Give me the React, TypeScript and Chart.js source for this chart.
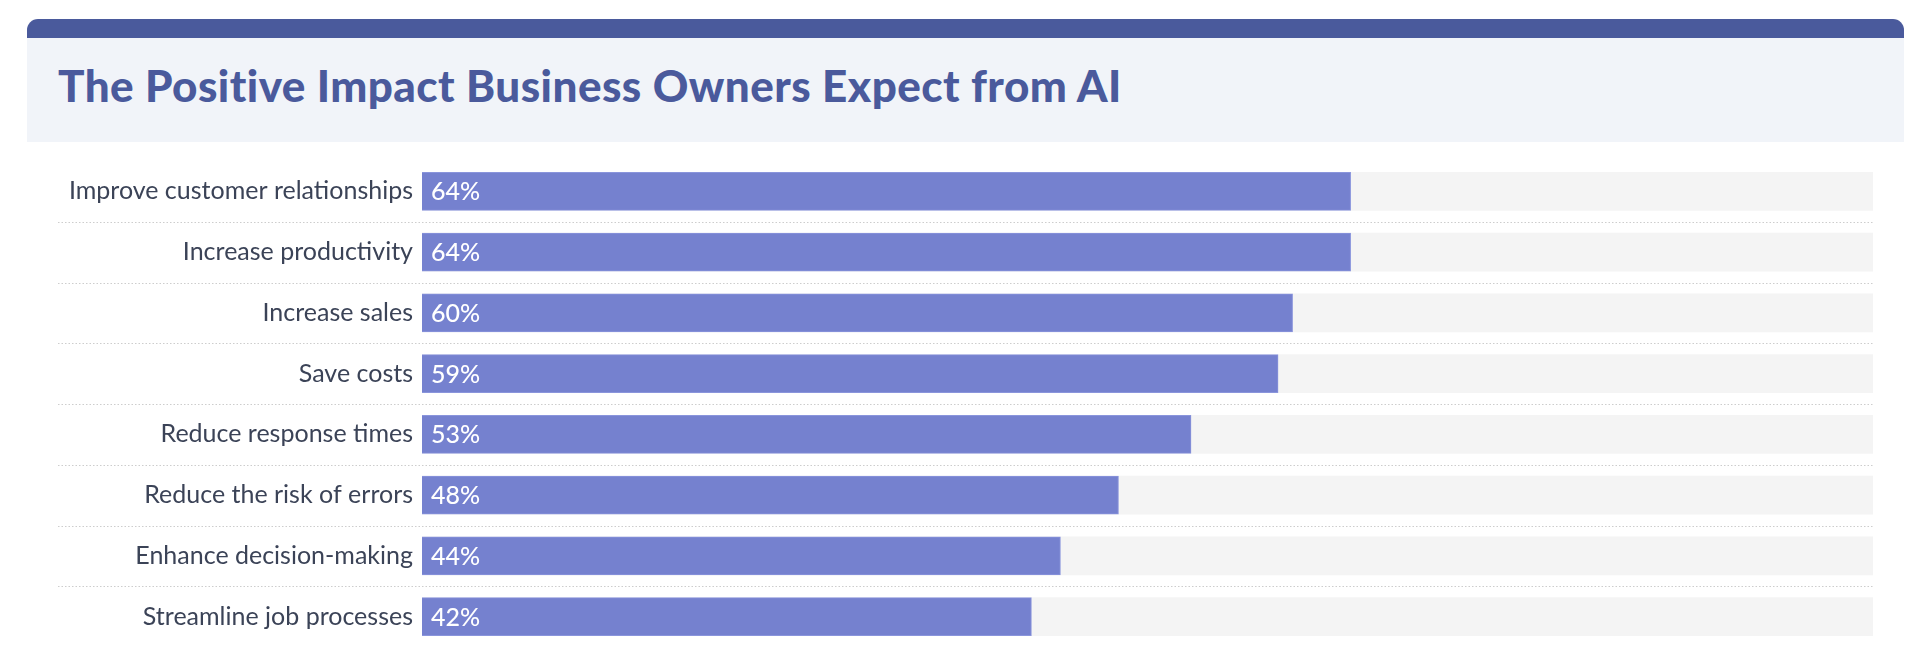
import React, { useEffect, useRef } from "react";
import { Chart, registerables } from "chart.js";

Chart.register(...registerables);

const titleText = "The Positive Impact Business Owners Expect from AI";
const categories = [
  "Improve customer relationships",
  "Increase productivity",
  "Increase sales",
  "Save costs",
  "Reduce response times",
  "Reduce the risk of errors",
  "Enhance decision-making",
  "Streamline job processes",
];
const values = [64, 64, 60, 59, 53, 48, 44, 42];
const trackValues = [100, 100, 100, 100, 100, 100, 100, 100];
const valueLabels = ["64%", "64%", "60%", "59%", "53%", "48%", "44%", "42%"];

const FONT = "Lato, 'Open Sans', sans-serif";

const separatorPlugin = {
  id: "separators",
  beforeDatasetsDraw(chart: any) {
    const { ctx, chartArea } = chart;
    const y = chart.scales.y;
    ctx.save();
    ctx.strokeStyle = "#cdcdcd";
    ctx.lineWidth = 1.2;
    ctx.setLineDash([1.5, 2]);
    for (let i = 0; i < categories.length - 1; i++) {
      const py = Math.round((y.getPixelForValue(i) + y.getPixelForValue(i + 1)) / 2) + 0.5;
      ctx.beginPath();
      ctx.moveTo(58, py);
      ctx.lineTo(chartArea.right, py);
      ctx.stroke();
    }
    ctx.restore();
  },
};

const valueLabelPlugin = {
  id: "valueLabels",
  afterDatasetsDraw(chart: any) {
    const { ctx } = chart;
    const meta = chart.getDatasetMeta(1);
    ctx.save();
    ctx.fillStyle = "#ffffff";
    ctx.font = `500 25px ${FONT}`;
    ctx.textAlign = "left";
    ctx.textBaseline = "middle";
    meta.data.forEach((bar: any, i: number) => {
      ctx.fillText(valueLabels[i], bar.base + 9, bar.y + 1);
    });
    ctx.restore();
  },
};

export default function App() {
  const canvasRef = useRef<HTMLCanvasElement | null>(null);

  useEffect(() => {
    if (!canvasRef.current) return;
    const chart = new Chart(canvasRef.current, {
      type: "bar",
      data: {
        labels: categories,
        datasets: [
          {
            label: "Track",
            data: trackValues,
            backgroundColor: "#f4f4f4",
            borderWidth: 0,
            barThickness: 38,
            grouped: false,
            order: 2,
          },
          {
            label: "Share",
            data: values,
            backgroundColor: "#7581cf",
            borderColor: "#8a95dc",
            borderWidth: 1,
            borderSkipped: "start",
            barThickness: 38,
            grouped: false,
            order: 1,
          },
        ],
      },
      options: {
        indexAxis: "y",
        responsive: false,
        animation: false,
        layout: { padding: { top: 20, bottom: 8, left: 0, right: 47 } },
        plugins: {
          legend: { display: false },
          tooltip: { enabled: false },
          title: { display: false },
        },
        scales: {
          x: {
            display: false,
            min: 0,
            max: 100,
          },
          y: {
            afterFit(scale: any) {
              scale.width = 422;
              scale.paddingTop = 0;
              scale.paddingBottom = 0;
            },
            border: { display: false },
            grid: { display: false, drawTicks: false },
            ticks: {
              color: "#3b4357",
              padding: 9,
              font: { family: FONT, size: 25, weight: "normal" },
            },
          },
        },
      },
      plugins: [separatorPlugin, valueLabelPlugin],
    } as any);
    return () => chart.destroy();
  }, []);

  return (
    <div
      style={{
        position: "absolute",
        left: 0,
        top: 0,
        width: 1920,
        height: 655,
        background: "#ffffff",
        overflow: "hidden",
      }}
    >
      <div
        style={{
          position: "absolute",
          left: 27,
          top: 19,
          width: 1877,
          height: 19,
          background: "#4a5a9c",
          borderTopLeftRadius: 11,
          borderTopRightRadius: 11,
        }}
      />
      <div
        style={{
          position: "absolute",
          left: 27,
          top: 38,
          width: 1877,
          height: 104,
          background: "#f1f4f9",
        }}
      />
      <div
        style={{
          position: "absolute",
          left: 58,
          top: 63,
          fontFamily: FONT,
          fontWeight: 900,
          fontSize: 44,
          lineHeight: "44px",
          letterSpacing: "0.45px",
          color: "#4a5a9c",
          whiteSpace: "nowrap",
        }}
      >
        {titleText}
      </div>
      <canvas
        ref={canvasRef}
        width={1920}
        height={514}
        style={{ position: "absolute", left: 0, top: 141, width: 1920, height: 514 }}
      />
    </div>
  );
}
